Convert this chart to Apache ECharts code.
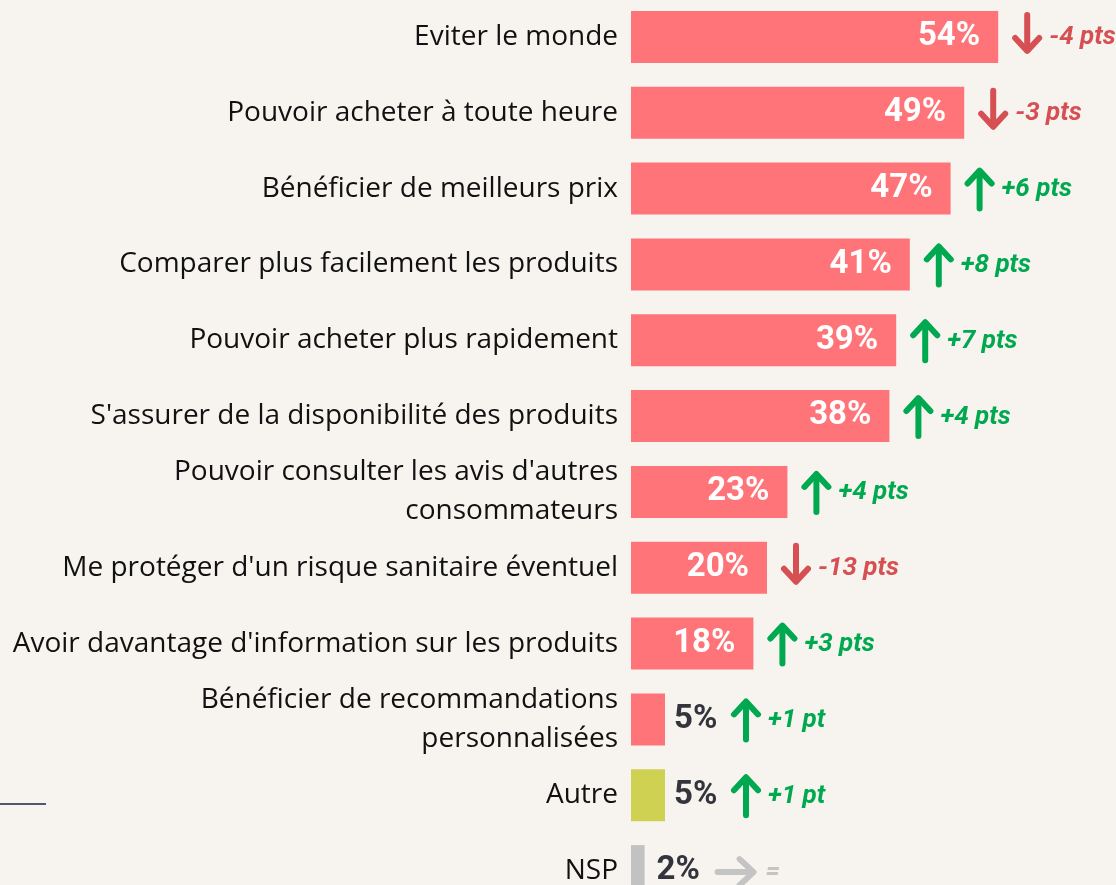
<!DOCTYPE html>
<html>
<head>
<meta charset="utf-8">
<script src="https://cdn.jsdelivr.net/npm/echarts@6/dist/echarts.min.js"></script>
<style>
  html, body { margin: 0; padding: 0; background: #f7f4f0; }
  #main { width: 1116px; height: 885px; }
</style>
</head>
<body>
<div id="main"></div>
<script>
var categories = [
  'Eviter le monde',
  'Pouvoir acheter à toute heure',
  'Bénéficier de meilleurs prix',
  'Comparer plus facilement les produits',
  'Pouvoir acheter plus rapidement',
  "S'assurer de la disponibilité des produits",
  "Pouvoir consulter les avis d'autres\nconsommateurs",
  "Me protéger d'un risque sanitaire éventuel",
  "Avoir davantage d'information sur les produits",
  'Bénéficier de recommandations\npersonnalisées',
  'Autre',
  'NSP'
];
var values = [54, 49, 47, 41, 39, 38, 23, 20, 18, 5, 5, 2];
var deltas = ['-4 pts', '-3 pts', '+6 pts', '+8 pts', '+7 pts', '+4 pts', '+4 pts', '-13 pts', '+3 pts', '+1 pt', '+1 pt', '='];
var trends = ['down', 'down', 'up', 'up', 'up', 'up', 'up', 'down', 'up', 'up', 'up', 'flat'];

var RED = '#ff7478';
var barColors = [RED, RED, RED, RED, RED, RED, RED, RED, RED, RED, '#cfd153', '#c2c2c2'];
var trendColors = { up: '#00a94f', down: '#d64f53', flat: '#c4c4c4' };

var chartDom = document.getElementById('main');
var myChart = echarts.init(chartDom);

var barData = values.map(function (v, i) {
  var inside = v >= 10;
  return {
    value: v,
    itemStyle: { color: barColors[i] },
    label: {
      position: inside ? 'insideRight' : 'right',
      distance: inside ? 18 : (v < 5 ? 12 : 9),
      color: inside ? '#ffffff' : '#33343c'
    }
  };
});

function renderTrend(params, api) {
  var i = params.dataIndex;
  var end = api.coord([api.value(0), api.value(1)]);
  var inside = api.value(0) >= 10;
  var cx = end[0] + (inside ? 29 : (trends[i] === 'flat' ? 91 : 81));
  var cy = end[1];
  var col = trendColors[trends[i]];
  var children = [];
  var stroke = { stroke: col, lineWidth: 6, lineCap: 'round', lineJoin: 'round', fill: null };
  if (trends[i] === 'up') {
    children.push({ type: 'polyline', shape: { points: [[cx, cy + 20], [cx, cy - 17]] }, style: stroke });
    children.push({ type: 'polyline', shape: { points: [[cx - 12, cy - 5], [cx, cy - 18], [cx + 12, cy - 5]] }, style: stroke });
  } else if (trends[i] === 'down') {
    children.push({ type: 'polyline', shape: { points: [[cx, cy - 22], [cx, cy + 13]] }, style: stroke });
    children.push({ type: 'polyline', shape: { points: [[cx - 12, cy + 1], [cx, cy + 14], [cx + 12, cy + 1]] }, style: stroke });
  } else {
    children.push({ type: 'polyline', shape: { points: [[cx - 18, cy + 1], [cx + 16, cy + 1]] }, style: stroke });
    children.push({ type: 'polyline', shape: { points: [[cx + 4, cy - 12], [cx + 18, cy + 1], [cx + 4, cy + 14]] }, style: stroke });
  }
  children.push({
    type: 'text',
    style: {
      x: cx + (trends[i] === 'flat' ? 30 : 22),
      y: cy + 1,
      text: deltas[i],
      fill: col,
      font: 'italic bold 26px Roboto',
      verticalAlign: 'middle',
      align: 'left'
    }
  });
  return { type: 'group', children: children };
}

var option = {
  backgroundColor: '#f7f4f0',
  animation: false,
  grid: { left: 631, width: 476, top: -1, height: 910, containLabel: false, outerBoundsMode: 'none' },
  xAxis: {
    type: 'value',
    min: 0,
    max: 70,
    show: false
  },
  yAxis: {
    type: 'category',
    data: categories,
    inverse: true,
    axisLine: { show: false },
    axisTick: { show: false },
    splitLine: { show: false },
    axisLabel: {
      margin: 13,
      fontFamily: 'Open Sans',
      fontSize: 28,
      lineHeight: 39,
      color: '#111111'
    }
  },
  series: [
    {
      type: 'bar',
      data: barData,
      barWidth: 52,
      label: {
        show: true,
        formatter: '{c}%',
        fontFamily: 'Roboto',
        fontWeight: 'bold',
        fontSize: 33
      }
    },
    {
      type: 'custom',
      renderItem: renderTrend,
      clip: false,
      data: values.map(function (v, i) { return [v, i]; })
    }
  ],
  graphic: [
    {
      type: 'line',
      shape: { x1: 0, y1: 804, x2: 46, y2: 804 },
      style: { stroke: '#50576e', lineWidth: 2 }
    }
  ]
};

myChart.setOption(option);
</script>
</body>
</html>
